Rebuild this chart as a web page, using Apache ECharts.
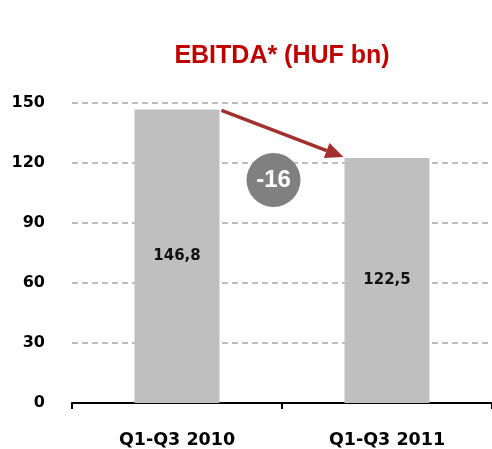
<!DOCTYPE html>
<html>
<head>
<meta charset="utf-8">
<script src="https://cdn.jsdelivr.net/npm/echarts@6/dist/echarts.min.js"></script>
<style>
  html, body { margin: 0; padding: 0; background: #fff; }
  #chart { width: 492px; height: 449px; }
</style>
</head>
<body>
<div id="chart"></div>
<script>
const categories = ['Q1-Q3 2010', 'Q1-Q3 2011']
const values = [146.8, 122.5]
const valueLabels = ['146,8', '122,5']
const changeLabel = '-16'

const chart = echarts.init(document.getElementById('chart'))
const barWidth = 85

const option = {
  backgroundColor: '#ffffff',
  animation: false,
  title: {
    text: 'EBITDA* (HUF bn)',
    left: 277,
    top: 39,
    textAlign: 'center',
    textStyle: {
      color: '#C00000',
      fontFamily: 'Liberation Sans, Arial, sans-serif',
      fontWeight: 'bold',
      fontSize: 25
    }
  },
  grid: { left: 72, right: 0, top: 103, bottom: 46 },
  xAxis: {
    type: 'category',
    data: categories,
    axisLine: { lineStyle: { color: '#000', width: 2 } },
    axisTick: { show: true, length: 6, lineStyle: { color: '#000', width: 2 } },
    axisLabel: {
      margin: 28,
      color: '#000',
      fontFamily: 'DejaVu Sans, sans-serif',
      fontWeight: 'bold',
      fontSize: 17.5
    }
  },
  yAxis: {
    type: 'value',
    min: 0,
    max: 150,
    interval: 30,
    axisLine: { show: false },
    axisTick: { show: false },
    axisLabel: {
      margin: 27,
      color: '#000',
      fontFamily: 'DejaVu Sans, sans-serif',
      fontWeight: 'bold',
      fontSize: 16
    },
    splitLine: {
      lineStyle: { color: '#A6A6A6', type: [6, 4], width: 1.5 }
    }
  },
  series: [
    {
      type: 'bar',
      data: values,
      barWidth: barWidth,
      itemStyle: { color: '#BFBFBF' },
      label: {
        show: true,
        position: 'inside',
        color: '#111',
        fontFamily: 'DejaVu Sans, sans-serif',
        fontWeight: 'bold',
        fontSize: 15,
        formatter: p => valueLabels[p.dataIndex]
      }
    }
  ]
}

chart.setOption(option)

// arrow from top-right of first bar to top-left of second bar, plus change badge
const p1 = chart.convertToPixel({ seriesIndex: 0 }, [0, values[0]])
const p2 = chart.convertToPixel({ seriesIndex: 0 }, [1, values[1]])
const x1 = p1[0] + barWidth / 2 + 2
const y1 = p1[1] + 1
const x2 = p2[0] - barWidth / 2 - 1
const y2 = p2[1] - 1
const ang = Math.atan2(y2 - y1, x2 - x1)
const headLen = 18
const headW = 8
const bx = x2 - headLen * Math.cos(ang)
const by = y2 - headLen * Math.sin(ang)
const cx = (x1 + x2) / 2 - 9
const cy = p2[1] + 22

chart.setOption({
  graphic: [
    {
      type: 'line',
      shape: { x1: x1, y1: y1, x2: bx, y2: by },
      style: { stroke: '#A3302F', lineWidth: 3.5 },
      z: 10
    },
    {
      type: 'polygon',
      shape: {
        points: [
          [x2, y2],
          [bx - headW * Math.sin(ang), by + headW * Math.cos(ang)],
          [bx + headW * Math.sin(ang), by - headW * Math.cos(ang)]
        ]
      },
      style: { fill: '#A3302F' },
      z: 10
    },
    {
      type: 'circle',
      shape: { cx: cx, cy: cy, r: 27 },
      style: { fill: '#808080' },
      z: 10
    },
    {
      type: 'text',
      x: cx,
      y: cy,
      style: {
        text: changeLabel,
        fill: '#fff',
        font: 'bold 24px Liberation Sans, Arial, sans-serif',
        align: 'center',
        verticalAlign: 'middle'
      },
      z: 11
    }
  ]
})

window.addEventListener('resize', () => {
  chart && chart.resize()
})
</script>
</body>
</html>
